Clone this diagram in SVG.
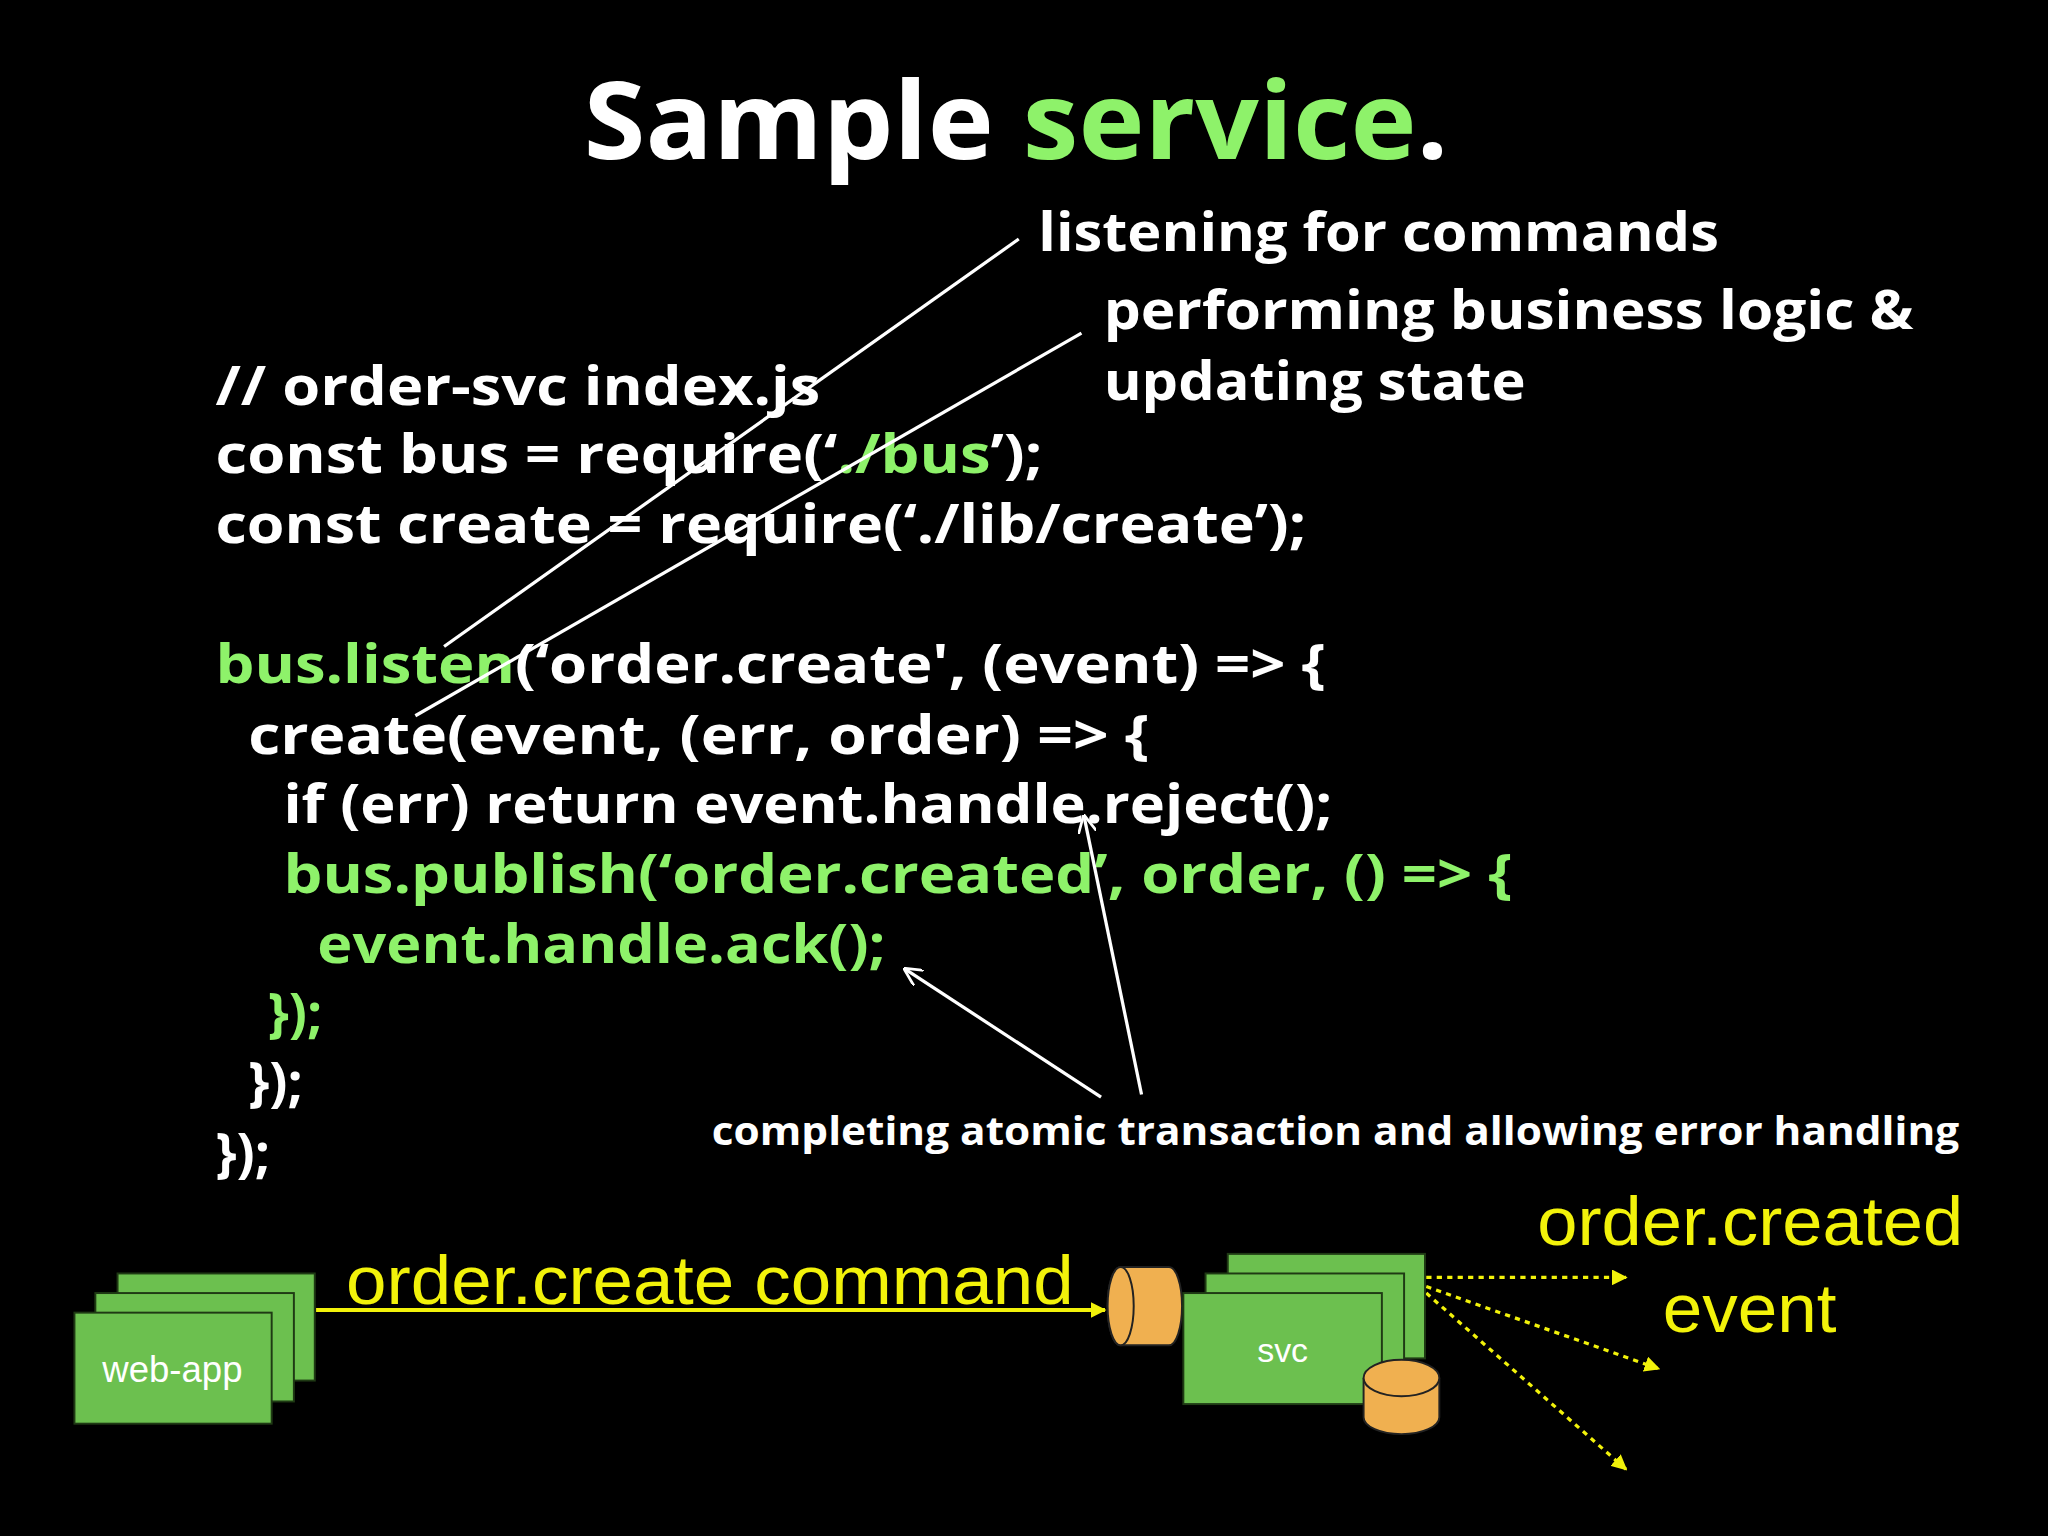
<svg xmlns="http://www.w3.org/2000/svg" width="2048" height="1536" viewBox="0 0 2048 1536">
<defs>
<style>
.c{font-family:"Open Sans","DejaVu Sans",sans-serif;font-weight:bold;font-size:41px;fill:#fff}
.g{fill:#8ef26a}
.a{font-family:"Open Sans","DejaVu Sans",sans-serif;font-weight:bold;fill:#fff}
.y{font-family:"Liberation Sans",sans-serif;fill:#f2f20a;font-size:52px}
.box{fill:#6cc04f;stroke:#1f3a14;stroke-width:1.5}
.orange{fill:#f0b050;stroke:#222;stroke-width:1.5}
</style>
<marker id="wa" viewBox="0 0 10 10" refX="9" refY="5" markerWidth="14" markerHeight="14" markerUnits="userSpaceOnUse" orient="auto"><path d="M0,0L10,5L0,10" fill="none" stroke="#fff" stroke-width="1.5"/></marker>
<marker id="ya" viewBox="0 0 10 10" refX="9" refY="5" markerWidth="12" markerHeight="12" markerUnits="userSpaceOnUse" orient="auto"><path d="M0,0L10,5L0,10z" fill="#f2f20a"/></marker>
</defs>
<rect width="2048" height="1536" fill="#000"/>
<g transform="scale(1.30612)">
<g id="title"><text x="447" y="122" class="a" font-size="82" textLength="662" lengthAdjust="spacingAndGlyphs">Sample <tspan class="g">service</tspan>.</text></g>
<g id="code">
<text x="165" y="310" class="c" textLength="463" lengthAdjust="spacingAndGlyphs">// order-svc index.js</text>
<text x="165" y="362" class="c" textLength="633" lengthAdjust="spacingAndGlyphs">const bus = require(‘<tspan class="g">./bus</tspan>’);</text>
<text x="165" y="416" class="c" textLength="835" lengthAdjust="spacingAndGlyphs">const create = require(‘./lib/create’);</text>
<text x="165" y="523" class="c" textLength="850" lengthAdjust="spacingAndGlyphs"><tspan class="g">bus.listen</tspan>(‘order.create', (event) =&gt; {</text>
<text x="190" y="577" class="c" textLength="690" lengthAdjust="spacingAndGlyphs">create(event, (err, order) =&gt; {</text>
<text x="217" y="630" class="c" textLength="803" lengthAdjust="spacingAndGlyphs">if (err) return event.handle.reject();</text>
<text x="217" y="684" class="c g" textLength="941" lengthAdjust="spacingAndGlyphs">bus.publish(‘order.created’, order, () =&gt; {</text>
<text x="243" y="737" class="c g" textLength="435" lengthAdjust="spacingAndGlyphs">event.handle.ack();</text>
<text x="205" y="790" class="c g">});</text>
<text x="190" y="843" class="c">});</text>
<text x="165" y="897" class="c">});</text>
</g>
<g id="annotations">
<text x="795" y="192" class="a" font-size="41" textLength="521" lengthAdjust="spacingAndGlyphs">listening for commands</text>
<text x="845" y="252" class="a" font-size="41" textLength="620" lengthAdjust="spacingAndGlyphs">performing business logic &amp;</text>
<text x="845" y="306" class="a" font-size="41" textLength="323" lengthAdjust="spacingAndGlyphs">updating state</text>
<text x="545" y="877" class="a" font-size="30" textLength="955" lengthAdjust="spacingAndGlyphs">completing atomic transaction and allowing error handling</text>
</g>
<g id="connectors" fill="none">
<line x1="780" y1="183" x2="340" y2="495" stroke="#fff" stroke-width="2.5"/>
<line x1="828" y1="255" x2="318" y2="548" stroke="#fff" stroke-width="2.5"/>
<line x1="843" y1="840" x2="693" y2="742" stroke="#fff" stroke-width="2.5" marker-end="url(#wa)"/>
<line x1="874" y1="838" x2="830" y2="625" stroke="#fff" stroke-width="2.5" marker-end="url(#wa)"/>
<line x1="242" y1="1003" x2="846" y2="1003" stroke="#f2f20a" stroke-width="3" marker-end="url(#ya)"/>
<line x1="1092" y1="978" x2="1245" y2="978" stroke="#f2f20a" stroke-width="2.5" stroke-dasharray="4 4" marker-end="url(#ya)"/>
<line x1="1092" y1="985" x2="1270" y2="1048" stroke="#f2f20a" stroke-width="2.5" stroke-dasharray="4 4" marker-end="url(#ya)"/>
<line x1="1092" y1="990" x2="1245" y2="1125" stroke="#f2f20a" stroke-width="2.5" stroke-dasharray="4 4" marker-end="url(#ya)"/>
</g>
<g id="web-app">
<rect x="90" y="975" width="151" height="82" class="box"/>
<rect x="73" y="990" width="152" height="83" class="box"/>
<rect x="57" y="1005" width="151" height="85" class="box"/>
<text x="132" y="1058" font-family="Liberation Sans,sans-serif" font-size="28" fill="#fff" text-anchor="middle">web-app</text>
</g>
<g id="command-label"><text x="265" y="998" class="y" textLength="557" lengthAdjust="spacingAndGlyphs">order.create command</text></g>
<g id="queue">
<path d="M858,970 H895 A10,30 0 0 1 895,1030 H858 A10,30 0 0 1 858,970 Z" class="orange"/>
<ellipse cx="858" cy="1000" rx="10" ry="30" class="orange"/>
</g>
<g id="svc">
<rect x="940" y="960" width="151" height="80" class="box"/>
<rect x="923" y="975" width="152" height="80" class="box"/>
<rect x="906" y="990" width="152" height="85" class="box"/>
<text x="982" y="1043" font-family="Liberation Sans,sans-serif" font-size="26" fill="#fff" text-anchor="middle">svc</text>
</g>
<g id="db">
<path d="M1044,1055 V1085 A29,13 0 0 0 1102,1085 V1055" class="orange"/>
<ellipse cx="1073" cy="1055" rx="29" ry="14" class="orange"/>
</g>
<g id="event-label">
<text x="1177" y="953" class="y" textLength="326" lengthAdjust="spacingAndGlyphs">order.created</text>
<text x="1273" y="1020" class="y" textLength="133" lengthAdjust="spacingAndGlyphs">event</text>
</g>
</g>
</svg>
